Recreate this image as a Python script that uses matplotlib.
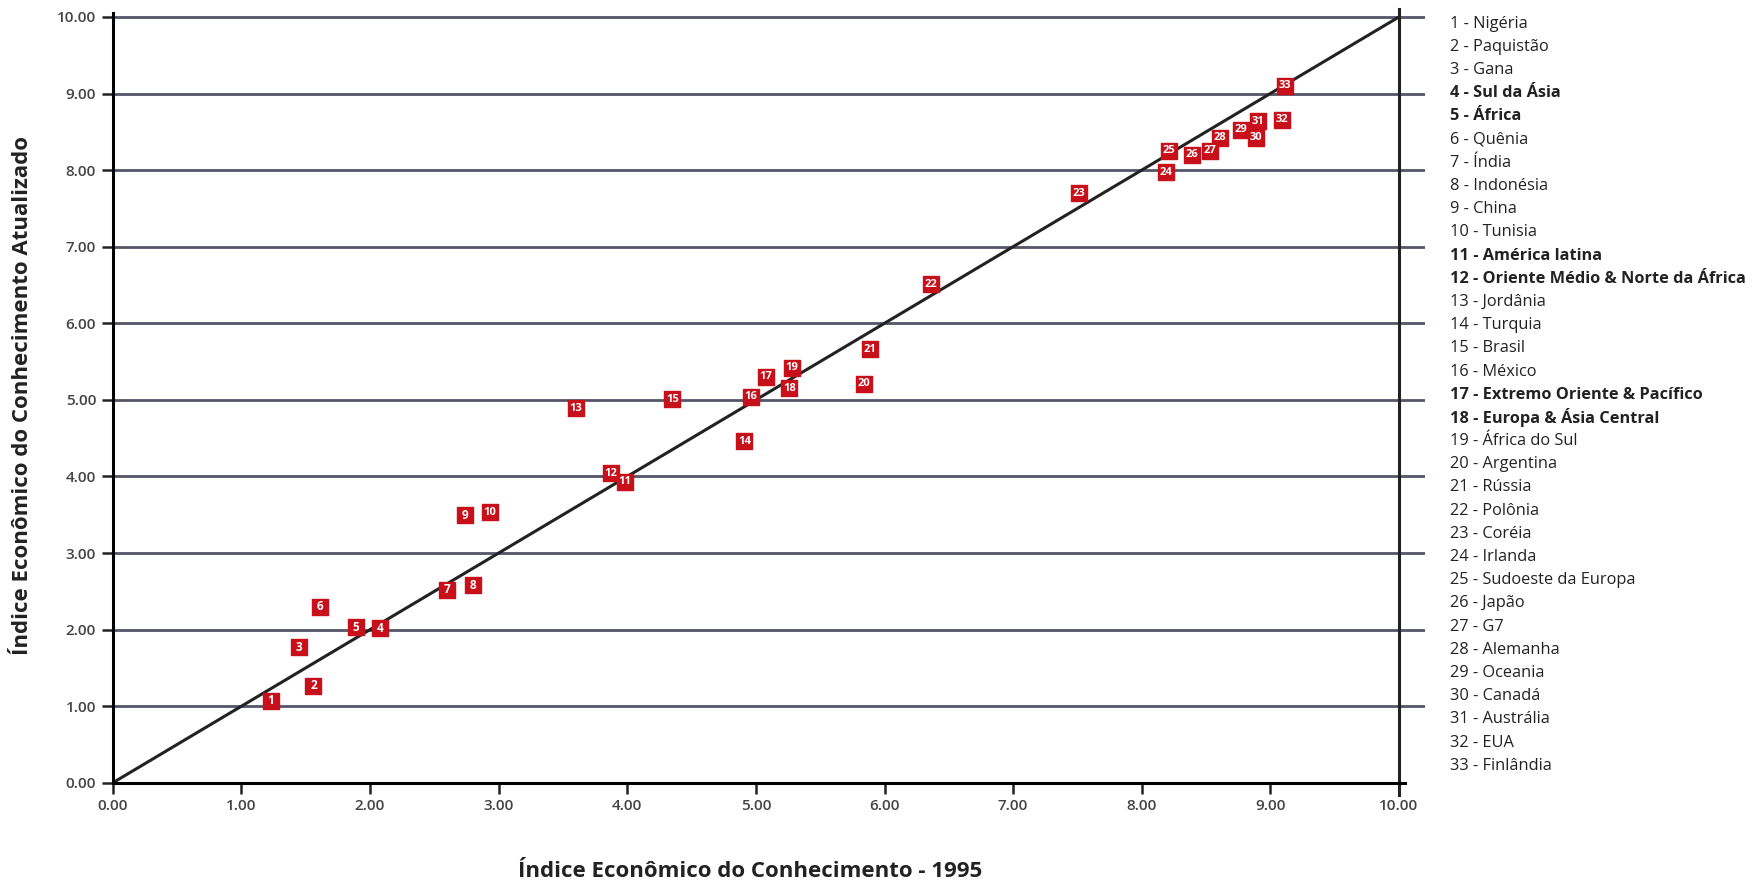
import matplotlib
matplotlib.use('Agg')
import matplotlib.pyplot as plt

plt.rcParams['font.family'] = ['Open Sans', 'DejaVu Sans']

# Dados
ids = list(range(1, 34))
x_1995 = [1.23, 1.56, 1.45, 2.08, 1.89, 1.61, 2.60, 2.80, 2.74, 2.93,
          3.98, 3.87, 3.60, 4.91, 4.35, 4.96, 5.08, 5.26, 5.28, 5.84,
          5.89, 6.36, 7.51, 8.19, 8.21, 8.39, 8.53, 8.61, 8.77, 8.89,
          8.90, 9.09, 9.11]
y_atual = [1.07, 1.27, 1.77, 2.02, 2.03, 2.30, 2.52, 2.58, 3.49, 3.53,
           3.93, 4.04, 4.89, 4.46, 5.01, 5.04, 5.30, 5.15, 5.42, 5.21,
           5.66, 6.51, 7.70, 7.97, 8.25, 8.20, 8.25, 8.42, 8.53, 8.42,
           8.64, 8.66, 9.10]
nomes = ['Nigéria', 'Paquistão', 'Gana', 'Sul da Ásia', 'África', 'Quênia',
         'Índia', 'Indonésia', 'China', 'Tunisia', 'América latina',
         'Oriente Médio & Norte da África', 'Jordânia', 'Turquia', 'Brasil',
         'México', 'Extremo Oriente & Pacífico', 'Europa & Ásia Central',
         'África do Sul', 'Argentina', 'Rússia', 'Polônia', 'Coréia',
         'Irlanda', 'Sudoeste da Europa', 'Japão', 'G7', 'Alemanha',
         'Oceania', 'Canadá', 'Austrália', 'EUA', 'Finlândia']
regioes = [4, 5, 11, 12, 17, 18]  # entradas em negrito
ticks = [0, 1, 2, 3, 4, 5, 6, 7, 8, 9, 10]

fig = plt.figure(figsize=(17.6, 8.82), dpi=100)
ax = fig.add_axes([0.0641, 0.1125, 0.7454, 0.877])
ax.set_xlim(0, 10.2)
ax.set_ylim(0, 10.1)

# linhas horizontais
for t in ticks[1:]:
    ax.plot([0, 10.2], [t, t], color='#55556a', lw=2, zorder=1)

# diagonal
ax.plot([0, 10], [0, 10], color='#222222', lw=2.2, zorder=2)

# eixo direito
ax.plot([10, 10], [-0.16, 10.1], color='#222222', lw=2.2, clip_on=False, zorder=2)

ax.scatter(x_1995, y_atual, marker='s', s=130, color='#c8101a', zorder=3)
for i, xv, yv in zip(ids, x_1995, y_atual):
    ax.text(xv, yv, str(i), color='white', fontsize=8.5 if i < 10 else 8,
            fontweight='bold', ha='center', va='center', zorder=4)

for s in ['top', 'right']:
    ax.spines[s].set_visible(False)
ax.spines['left'].set_linewidth(2.2)
ax.spines['bottom'].set_linewidth(2.2)
ax.spines['bottom'].set_bounds(0, 10.05)
ax.spines['left'].set_bounds(0, 10.05)

ax.set_xticks(ticks)
ax.set_yticks(ticks)
ax.set_xticklabels([f'{t:.2f}' for t in ticks])
ax.set_yticklabels([f'{t:.2f}' for t in ticks])
ax.tick_params(length=8, width=1.8, color='#222222', labelsize=11,
               labelcolor='#444444', pad=4)
for lb in ax.get_xticklabels() + ax.get_yticklabels():
    lb.set_fontweight('semibold')

fig.text(0.426, 0.012, 'Índice Econômico do Conhecimento - 1995',
         ha='center', va='center', fontsize=16, fontweight='bold', color='#222222')
fig.text(0.0128, 0.552, 'Índice Econômico do Conhecimento Atualizado',
         ha='center', va='center', rotation=90, fontsize=16, fontweight='bold',
         color='#222222')

# legenda lateral
y0 = 782 - 21
step = 20.56
for k, (i, n) in enumerate(zip(ids, nomes)):
    yy = (y0 - k * step) / 782
    fig.text(0.8237, yy, f'{i} - {n}', ha='left', va='center', fontsize=11.8,
             fontweight='bold' if i in regioes else 'normal', color='#222222')

fig.savefig('out.png', dpi=100)
